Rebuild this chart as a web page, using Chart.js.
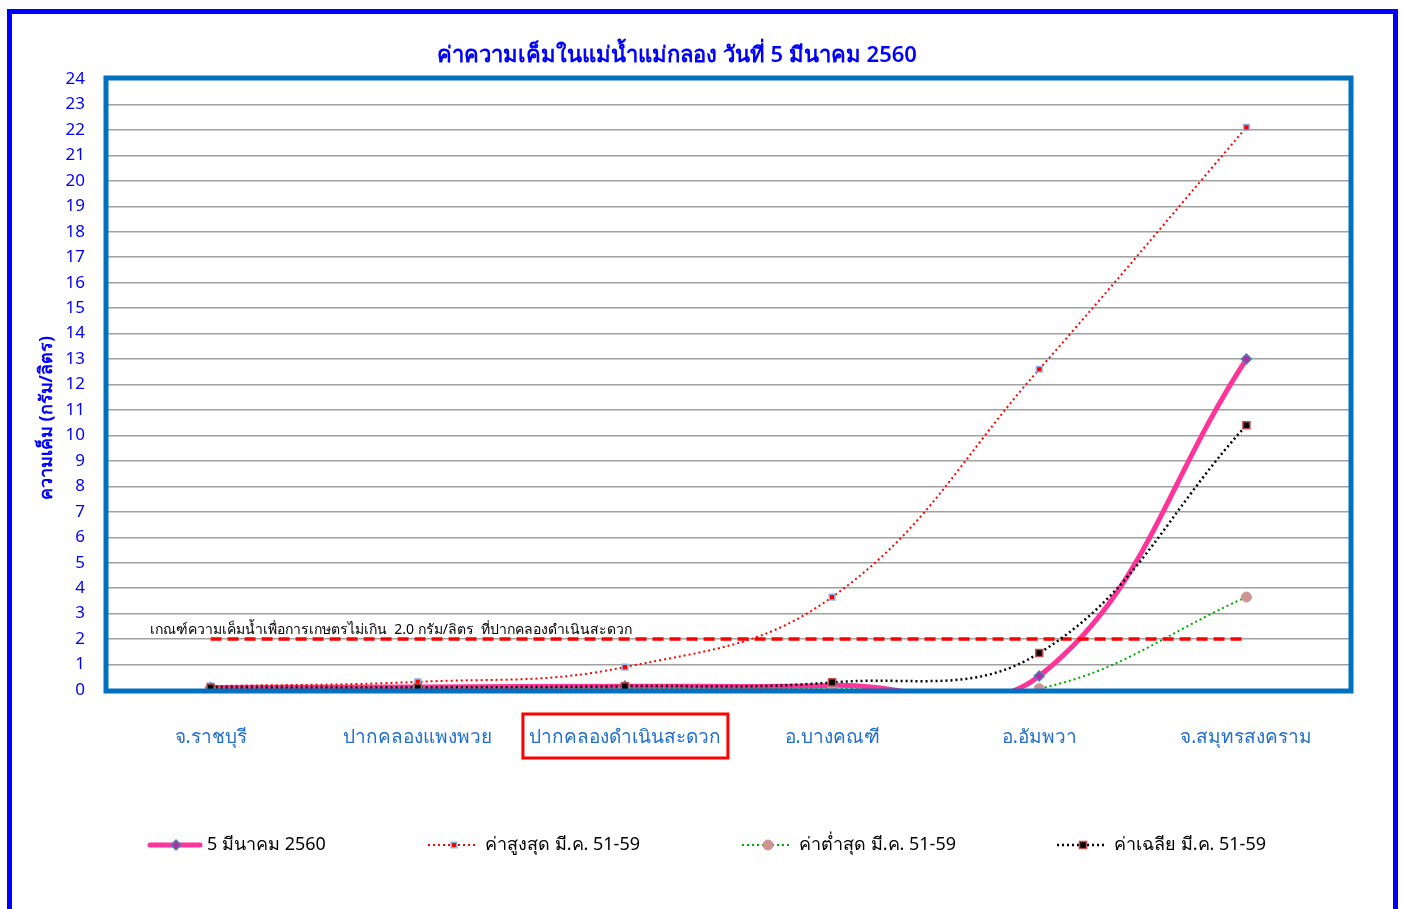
<!DOCTYPE html>
<html>
<head>
<meta charset="utf-8">
<script src="https://cdn.jsdelivr.net/npm/chart.js@4.4.1/dist/chart.umd.min.js"></script>
<style>
  html, body { margin: 0; padding: 0; background: #fff; }
  #wrap { width: 1403px; height: 909px; position: relative; }
</style>
</head>
<body>
<div id="wrap"><canvas id="salinityChart"></canvas></div>
<script>
// Stations along the Mae Klong river
const stations = ['จ.ราชบุรี', 'ปากคลองแพงพวย', 'ปากคลองดำเนินสะดวก', 'อ.บางคณฑี', 'อ.อัมพวา', 'จ.สมุทรสงคราม'];

// Salinity values (g/l)
const today = [0.1, 0.12, 0.15, 0.18, 0.55, 13.0];
const maxValues = [0.15, 0.32, 0.9, 3.65, 12.6, 22.1];
const minValues = [0.04, 0.04, 0.05, 0.05, 0.05, 3.65];
const avgValues = [0.1, 0.1, 0.15, 0.3, 1.45, 10.4];
const threshold = [2, 2, 2, 2, 2, 2];

const seriesNames = ['5 มีนาคม 2560', 'ค่าสูงสุด มี.ค. 51-59', 'ค่าต่ำสุด มี.ค. 51-59', 'ค่าเฉลีย มี.ค. 51-59'];
const titleText = 'ค่าความเค็มในแม่น้ำแม่กลอง วันที่ 5 มีนาคม 2560';
const yTitle = 'ความเค็ม (กรัม/ลิตร)';
const thresholdLabel = 'เกณฑ์ความเค็มน้ำเพื่อการเกษตรไม่เกิน  2.0 กรัม/ลิตร  ที่ปากคลองดำเนินสะดวก';

const FONT = 'Tahoma, "Noto Sans", "DejaVu Sans", sans-serif';

// Draw frame, title, axis title, threshold note, highlight box and legend
const decorations = {
  id: 'decorations',
  afterDatasetsDraw(chart) {
    const ctx = chart.ctx;
    const a = chart.chartArea;
    ctx.save();
    // plot area border
    ctx.strokeStyle = '#0070C0';
    ctx.lineWidth = 5;
    ctx.strokeRect(a.left - 1, a.top - 1, a.right - a.left + 2, a.bottom - a.top + 2);
    ctx.restore();
  },
  afterDraw(chart) {
    const ctx = chart.ctx;
    const xs = chart.scales.x;
    ctx.save();

    // outer blue frame
    ctx.strokeStyle = '#0000FF';
    ctx.lineWidth = 5;
    ctx.strokeRect(9.5, 11.5, 1386, 920);

    // title
    ctx.fillStyle = '#0000FF';
    ctx.font = '600 22px ' + FONT;
    ctx.textAlign = 'center';
    ctx.textBaseline = 'middle';
    ctx.fillText(titleText, 677, 56);

    // y axis title
    ctx.save();
    ctx.translate(47, 418);
    ctx.rotate(-Math.PI / 2);
    ctx.font = 'bold 18px ' + FONT;
    ctx.fillText(yTitle, 0, 0);
    ctx.restore();

    // threshold note
    ctx.fillStyle = '#000';
    ctx.font = '14px ' + FONT;
    ctx.textAlign = 'left';
    ctx.fillText(thresholdLabel, 150, 630);

    // red box around the third station
    const bx = xs.getPixelForValue(2);
    ctx.strokeStyle = '#FF0000';
    ctx.lineWidth = 3;
    ctx.strokeRect(bx - 102, 714, 205, 44);

    // legend
    const items = [
      { x: 150, ds: chart.data.datasets[0] },
      { x: 428, ds: chart.data.datasets[1] },
      { x: 742, ds: chart.data.datasets[2] },
      { x: 1057, ds: chart.data.datasets[3] }
    ];
    const ly = 845;
    items.forEach(it => {
      const ds = it.ds;
      ctx.save();
      ctx.strokeStyle = ds.borderColor;
      ctx.lineWidth = ds.borderWidth;
      ctx.lineCap = ds.borderDash ? 'butt' : 'round';
      ctx.setLineDash(ds.borderDash || []);
      ctx.beginPath();
      ctx.moveTo(it.x, ly);
      ctx.lineTo(it.x + 50, ly);
      ctx.stroke();
      ctx.setLineDash([]);
      ctx.fillStyle = ds.pointBackgroundColor;
      ctx.strokeStyle = ds.pointBorderColor;
      ctx.lineWidth = ds.pointBorderWidth;
      Chart.helpers.drawPoint(ctx, {
        pointStyle: ds.pointStyle, radius: ds.pointRadius, borderWidth: ds.pointBorderWidth, rotation: 0
      }, it.x + 26, ly);
      ctx.restore();
      ctx.fillStyle = '#000';
      ctx.font = '18px ' + FONT;
      ctx.textAlign = 'left';
      ctx.textBaseline = 'middle';
      ctx.fillText(ds.label, it.x + 57, ly);
    });
    ctx.restore();
  }
};

const ctx = document.getElementById('salinityChart').getContext('2d');
const salinityChart = new Chart(ctx, {
  type: 'line',
  data: {
    labels: stations,
    datasets: [
      {
        label: seriesNames[0],
        data: today,
        borderColor: '#FF3399',
        borderWidth: 5,
        tension: 0.4,
        pointStyle: 'rectRot',
        pointRadius: 5,
        pointBackgroundColor: '#B02FA0',
        pointBorderColor: '#4F81BD',
        pointBorderWidth: 1.5,
        clip: { left: 10, right: 10, top: 10, bottom: 0 },
        order: 5
      },
      {
        label: seriesNames[1],
        data: maxValues,
        borderColor: '#FF0000',
        borderWidth: 2,
        borderDash: [2, 3],
        tension: 0.4,
        pointStyle: 'rect',
        pointRadius: 4,
        pointBackgroundColor: '#FF0000',
        pointBorderColor: '#8EB4E3',
        pointBorderWidth: 1.5,
        order: 2
      },
      {
        label: seriesNames[2],
        data: minValues,
        borderColor: '#00AA00',
        borderWidth: 2,
        borderDash: [2, 3],
        tension: 0.4,
        pointStyle: 'circle',
        pointRadius: 5,
        pointBackgroundColor: '#D09393',
        pointBorderColor: '#D09393',
        pointBorderWidth: 1,
        clip: { left: 10, right: 10, top: 10, bottom: 0 },
        order: 4
      },
      {
        label: seriesNames[3],
        data: avgValues,
        borderColor: '#000000',
        borderWidth: 2.5,
        borderDash: [2, 3],
        tension: 0.4,
        pointStyle: 'rect',
        pointRadius: 5,
        pointBackgroundColor: '#000000',
        pointBorderColor: '#C0504D',
        pointBorderWidth: 1.5,
        order: 1
      },
      {
        label: 'threshold',
        data: threshold,
        borderColor: '#FF0000',
        borderWidth: 3.5,
        borderDash: [11, 6],
        tension: 0,
        pointRadius: 0,
        order: 3
      }
    ]
  },
  options: {
    responsive: true,
    maintainAspectRatio: false,
    animation: false,
    elements: { line: { capBezierPoints: false } },
    layout: { padding: { left: 0, right: 53, top: 79, bottom: 0 } },
    plugins: {
      legend: { display: false },
      title: { display: false },
      tooltip: { enabled: false }
    },
    scales: {
      x: {
        offset: true,
        grid: { display: false, drawTicks: false },
        border: { display: false },
        ticks: {
          color: '#1F6FCF',
          font: { family: FONT, size: 19 },
          padding: 36,
          maxRotation: 0,
          autoSkip: false
        },
        afterFit(scale) { scale.height = 219; }
      },
      y: {
        min: 0,
        max: 24,
        grid: { color: '#A0A0A0', lineWidth: 1.5, drawTicks: false },
        border: { display: false },
        ticks: {
          stepSize: 1,
          color: '#0000FF',
          font: { family: FONT, size: 17 },
          padding: 22
        },
        afterFit(scale) { scale.width = 107; }
      }
    }
  },
  plugins: [decorations]
});
</script>
</body>
</html>
